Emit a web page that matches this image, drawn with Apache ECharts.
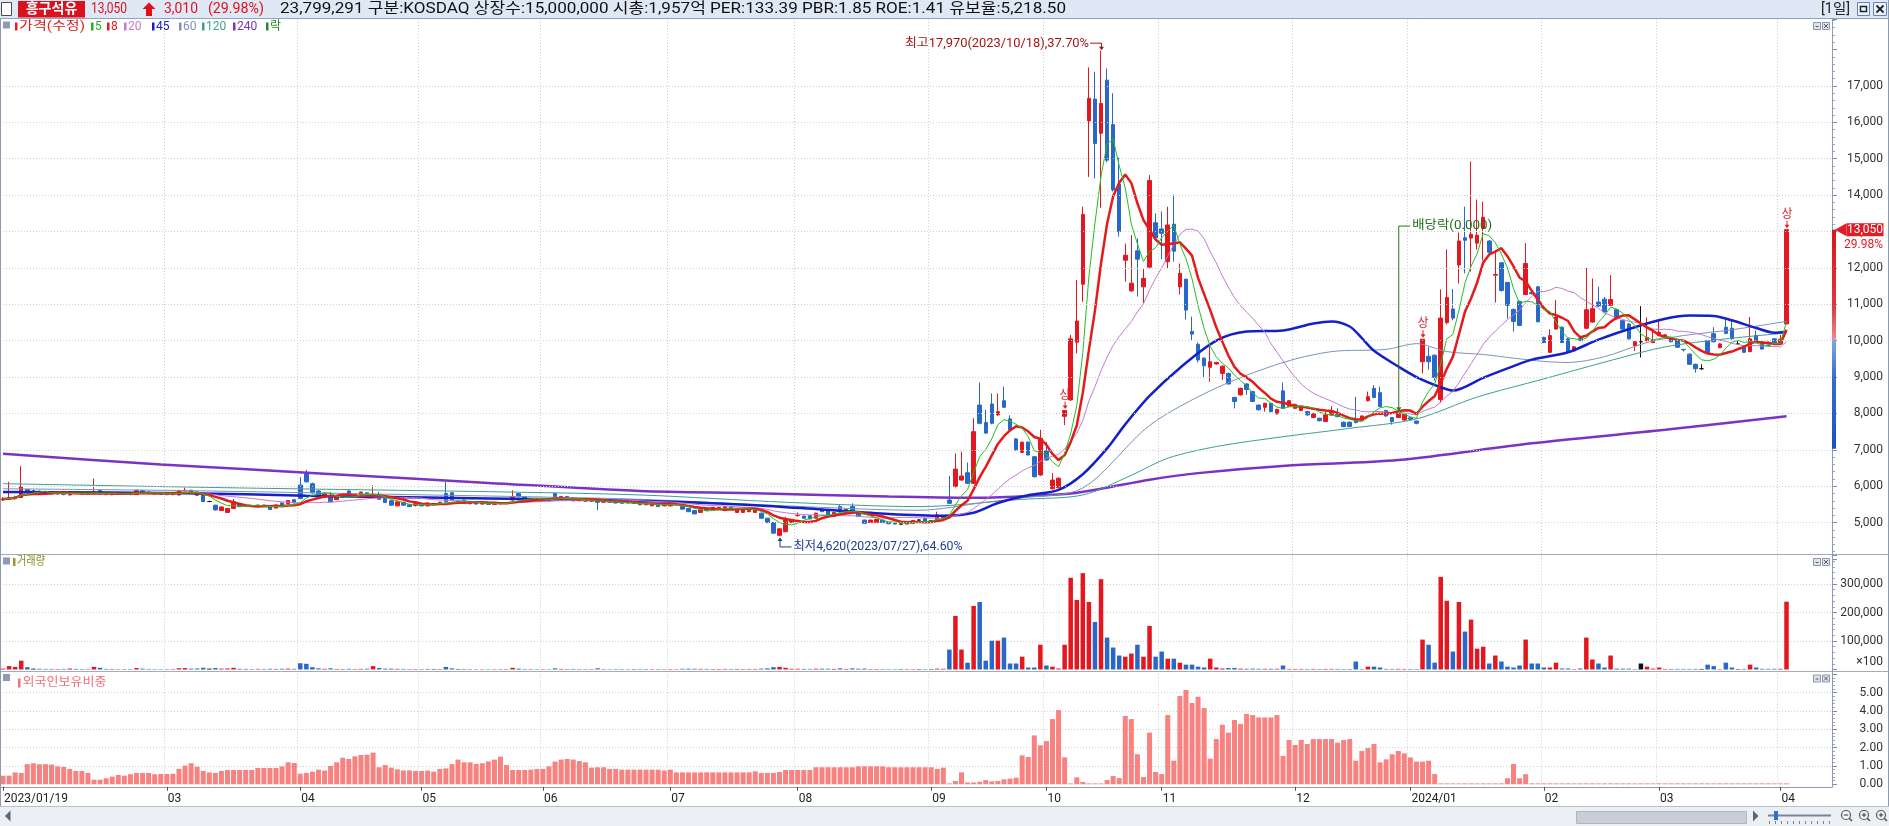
<!DOCTYPE html>
<html>
<head>
<meta charset="utf-8">
<script src="https://cdn.jsdelivr.net/npm/echarts@6.0.0/dist/echarts.min.js"></script>
<style>
html, body { margin: 0; padding: 0; background: #fff; }
#main { width: 1889px; height: 826px; }
</style>
</head>
<body>
<div id="main"></div>
<script>
// 흥구석유 일봉 (2023/01/19 ~ 2024/04/02)
const holidays = ['2023-01-23','2023-01-24','2023-03-01','2023-05-01','2023-05-05','2023-05-29',
  '2023-06-06','2023-08-15','2023-09-28','2023-09-29','2023-10-02','2023-10-03','2023-10-09',
  '2023-12-25','2023-12-29','2024-01-01','2024-02-09','2024-02-12','2024-03-01'];

function tradingDays(start, end) {
  const out = [];
  const d = new Date(start + 'T00:00:00Z');
  const e = new Date(end + 'T00:00:00Z');
  while (d <= e) {
    const w = d.getUTCDay();
    const iso = d.toISOString().slice(0, 10);
    if (w !== 0 && w !== 6 && !holidays.includes(iso)) out.push(iso.replace(/-/g, '/'));
    d.setUTCDate(d.getUTCDate() + 1);
  }
  return out;
}
const dates = tradingDays('2023-01-19', '2024-04-02');

const opens = [
  5620,5640,5660,5690,5910,5860,5860,5850,5820,5790, 5800,5760,5840,5800,5780,5790,5880,5790,5770,5800,
  5780,5790,5770,5880,5840,5800,5790,5780,5770,5760, 5880,5890,5840,5800,5580,5480,5330,5280,5390,5530,
  5450,5470,5440,5480,5450,5400,5540,5520,5630,6030, 6340,6070,5870,5700,5750,5630,5700,5870,5710,5760,
  5820,5720,5760,5660,5600,5460,5560,5490,5470,5520, 5460,5520,5520,5800,5820,5590,5620,5520,5560,5510,
  5540,5500,5530,5520,5620,5800,5710,5640,5660,5620, 5640,5800,5650,5720,5670,5600,5620,5590,5610,5560,
  5580,5560,5580,5570,5540,5550,5560,5460,5480,5460, 5460,5490,5440,5390,5330,5280,5390,5350,5360,5330,
  5430,5280,5280,5300,5280,5260,5120,5000,4650,4750, 5000,5190,5180,5190,5120,5370,5330,5170,5440,5280,
  5440,5300,5070,5000,5000,5070,5000,4980,4960,4960, 4980,5070,5120,5050,5070,5120,5620,5990,6170,6370,
  6080,8230,7750,8260,7960,8350,7850,7300,6930,7210, 6810,6310,6970,5930,5960,7920,8370,9960,11550,16040,
  16640,15700,17160,15940,14300,12210,11370,12470,11480,12020, 13240,13070,12170,13200,11480,11690,10250,9900,9520,9270,
  9360,9100,9100,8440,8510,8810,8600,8230,8170,8280, 7990,8620,8190,8140,8080,8050,7890,7870,7780,7960,
  7980,7760,7760,7840,7820,8350,8690,8570,8080,7890, 7890,7820,7880,7790,9420,9570,9600,8380,10500,10870,
  12080,12830,12820,12680,13090,12740,11800,12140,11600,10860, 11080,11270,11320,11480,10090,9680,10320,10370,10050,9720,
  10060,10340,10510,11060,11140,10970,10850,10550,10460,9860, 9970,10000,9950,10140,10070,10090,10000,9760,9630,9350,
  9230,10000,10190,9810,10370,10340,9910,9860,9700,10140, 9970,9880,10050,9910,10460
];
const closes = [
  5650,5680,5700,5980,5850,5860,5800,5820,5790,5800, 5770,5840,5800,5780,5790,5850,5790,5770,5800,5780,
  5790,5770,5890,5840,5800,5790,5780,5770,5790,5880, 5890,5840,5750,5580,5580,5350,5430,5390,5570,5440,
  5470,5440,5480,5450,5360,5480,5460,5610,5540,5660, 6120,5820,5730,5790,5570,5700,5720,5760,5780,5840,
  5730,5780,5640,5550,5480,5570,5480,5440,5520,5460, 5540,5520,5560,5570,5620,5590,5530,5560,5510,5540,
  5500,5530,5520,5540,5710,5710,5640,5660,5620,5640, 5610,5710,5720,5630,5600,5620,5590,5610,5560,5580,
  5560,5540,5530,5540,5540,5490,5490,5530,5440,5510, 5530,5500,5370,5300,5240,5370,5330,5420,5420,5440,
  5360,5350,5350,5370,5350,5120,5000,4710,4830,5070, 5090,5200,5120,5100,5260,5300,5210,5280,5350,5360,
  5330,5170,4980,5070,5090,5000,4970,4960,4960,5030, 5060,5070,5010,5050,5210,5190,5530,6470,6280,6080,
  7500,7730,7460,7730,8050,8170,7550,7000,7210,6860, 6260,7320,6720,6170,6220,8080,10050,10540,13470,16660,
  15420,16520,14960,14140,13000,12350,11580,12240,11710,14400, 12830,12950,13180,12460,11850,10840,10180,9470,9310,9420,
  9400,9300,8810,8330,8690,8660,8330,8100,8280,8050, 8110,8140,8350,8250,8190,7960,7990,7800,7960,8050,
  7910,7640,7640,7750,7930,8460,8440,8190,7930,7780, 8000,7980,7840,7730,10040,9420,8990,10620,11190,10620,
  12740,12760,12920,12900,13390,12430,11820,11380,10970,10530, 10420,12120,11290,10520,9950,10140,10650,9950,9700,9830,
  10000,10850,10880,10950,10790,11130,10600,10320,10050,9970, 9970,10090,10020,10230,10160,9970,9820,9750,9350,9230,
  9230,9660,9970,9910,10200,10050,9910,9680,10050,10000, 9770,9870,9940,10040,13050
];
const lows = [
  5600,5620,5630,5680,5830,5830,5780,5800,5770,5760, 5750,5750,5780,5760,5760,5780,5770,5750,5750,5760,
  5760,5750,5760,5820,5790,5770,5760,5750,5750,5750, 5860,5830,5740,5570,5560,5330,5320,5270,5380,5430,
  5440,5430,5430,5430,5350,5390,5450,5510,5530,5650, 6100,5800,5720,5690,5560,5620,5680,5750,5700,5750,
  5720,5710,5630,5540,5470,5450,5470,5430,5440,5450, 5450,5500,5510,5560,5600,5570,5520,5500,5500,5500,
  5490,5490,5500,5510,5600,5700,5630,5620,5610,5600, 5600,5700,5640,5620,5590,5590,5580,5570,5340,5550,
  5550,5530,5520,5530,5520,5480,5480,5450,5430,5450, 5450,5480,5360,5290,5230,5270,5320,5340,5350,5320,
  5350,5270,5270,5290,5270,5110,4990,4700,4620,4740, 4990,5170,5110,5090,5110,5290,5200,5160,5340,5270,
  5320,5160,4970,4990,4990,4990,4960,4950,4950,4950, 4970,5050,5000,5030,5060,5110,5520,5970,6150,6060,
  6060,7700,7440,7700,7940,8150,7530,6980,6910,6840, 6240,6290,6700,5910,5940,7680,8350,9650,11070,14500,
  14460,13650,14900,14100,12860,11620,11340,11210,11030,12000, 12800,12240,11990,12170,11270,10580,10010,9400,8970,8870,
  9340,8920,8800,8140,8490,8510,8310,8080,8050,8030, 7970,8120,8170,8120,8060,7940,7870,7780,7760,7940,
  7900,7620,7620,7730,7800,8330,8420,8170,7910,7690, 7870,7800,7820,7700,9100,9200,8900,8300,10450,10560,
  11570,11850,11900,12500,12200,12400,11050,11350,10610,10250, 10400,11250,11270,10500,9930,9660,10300,9930,9680,9700,
  9990,10320,10490,10930,10770,10950,10580,10300,10030,9720, 9540,9980,9930,10120,10050,9950,9800,9700,9330,9120,
  9200,9640,9950,9790,10180,10030,9880,9660,9680,9980, 9750,9850,9920,9880,10450
];
const highs = [
  5700,6120,5740,6550,5930,5900,5880,5870,5840,5830, 5820,5860,5850,5820,5810,6210,5900,5800,5810,5820,
  5810,5800,5900,5890,5850,5810,5800,5790,5800,5900, 5960,5900,5850,5800,5600,5490,5440,5400,5650,5540,
  5480,5480,5490,5490,5460,5500,5560,5620,5650,6250, 6450,6100,5900,5810,5840,5710,5740,5880,5790,5850,
  5830,6030,5850,5670,5610,5580,5570,5500,5530,5530, 5550,5540,5570,6120,5840,5610,5630,5570,5570,5550,
  5550,5540,5540,5550,5890,5810,5720,5670,5670,5650, 5650,5810,5730,5730,5680,5630,5630,5620,5620,5590,
  5590,5570,5590,5580,5560,5560,5570,5540,5490,5520, 5540,5510,5450,5400,5340,5380,5400,5430,5430,5450,
  5440,5360,5360,5380,5360,5270,5130,5010,4850,5160, 5100,5280,5190,5200,5270,5380,5340,5290,5500,5370,
  5530,5310,5080,5080,5100,5080,5010,4990,4990,5040, 5070,5090,5130,5070,5300,5200,6280,6900,6950,6650,
  7870,8850,8100,8550,8550,8740,7950,7320,7230,7230, 6830,7550,7220,6360,6240,8080,10160,11670,13680,17510,
  17390,17970,17480,16800,15030,12670,12900,12810,12000,14550, 13500,13550,13680,14020,12120,11700,10660,9950,9540,9840,
  9420,9320,9120,8460,8710,8830,8620,8250,8290,8300, 8130,8850,8370,8270,8210,8070,8010,7880,8050,8200,
  8140,7780,7780,8460,7950,8600,8780,8740,8100,7900, 8020,8000,7900,7800,10040,9830,9620,11410,12510,11420,
  12970,13680,14920,13880,13820,12760,12490,12160,11620,10880, 11100,12680,11340,11500,10110,10310,11120,10390,10070,9850,
  10070,12000,11710,11480,11200,11800,10870,10570,10480,9990, 10950,10640,10320,10600,10180,10110,10020,9770,9650,9370,
  9350,10020,10370,9930,10600,10560,10000,9880,10650,10280, 9990,9900,10070,10160,13050
];
// 거래량 (x100주)
const volume = [
  3000,12000,9000,31000,8000,3000,2500,2000,2000,1800, 2000,3500,2200,1800,1500,9000,6000,2000,1800,1500,
  1500,1400,5000,3000,2000,1500,1400,1500,1600,4500, 5000,3000,3500,6000,3000,5000,3000,3500,6000,2500,
  2000,1800,2200,1900,2500,2000,2600,3000,2400,22000, 20000,8000,4000,2500,4000,2000,1800,2500,1700,2200,
  2600,12000,5000,3000,3000,2200,2000,1700,1800,1600, 2000,1500,1800,9000,4000,1500,1800,1500,1400,1300,
  1300,1400,1500,1500,6000,3000,1800,1500,1400,1500, 1400,4000,2200,1800,1900,1600,1500,1500,4000,1500,
  1400,1500,1500,1400,1300,1600,1700,1500,1500,1400, 1600,1400,2500,2800,2600,2200,2000,1800,1800,2000,
  1900,2000,1800,1900,2000,3000,4000,8000,9000,6000, 2500,2500,2200,2000,2800,3000,2600,2400,4000,2200,
  4000,2800,3000,1800,1700,1600,1500,1400,1300,1500, 1500,1400,1600,1500,3000,2500,70000,188000,70000,24000,
  223000,237000,31000,101000,101000,112000,21000,21000,45000,7000, 7000,87000,14000,10000,3500,87000,322000,244000,338000,237000,
  167000,317000,112000,77000,49000,45000,56000,87000,45000,153000, 45000,63000,38000,38000,24000,17000,17000,10000,7000,38000,
  7000,3500,5000,5000,3000,2500,3000,2500,2500,2500, 2500,14000,2000,2000,2000,1800,2000,1800,2000,2200,
  2000,1800,1800,28000,1500,10000,10000,7000,2000,2000, 2200,2000,1800,1800,105000,87000,24000,325000,241000,63000,
  237000,133000,175000,73000,80000,21000,49000,28000,10000,7000, 14000,105000,21000,21000,7000,7000,24000,3500,3500,1500,
  3500,112000,35000,21000,7000,49000,3000,3000,3000,1500, 21000,10000,3000,7000,2000,2000,2000,2000,2000,2000,
  2000,17000,12000,1500,24000,7000,1500,2000,17000,7000, 2500,2500,2500,2500,237993
];
// 외국인보유비중 (%)
const foreign = [
  0.47,0.47,0.65,0.62,1.10,1.15,1.10,1.10,1.08,0.98, 0.95,0.84,0.73,0.73,0.62,0.25,0.25,0.33,0.42,0.51,
  0.47,0.55,0.62,0.62,0.62,0.55,0.56,0.56,0.58,0.84, 1.02,1.15,0.96,0.73,0.65,0.62,0.73,0.78,0.78,0.78,
  0.78,0.78,0.89,0.89,0.89,0.89,0.98,1.20,1.16,0.58, 0.62,0.69,0.80,0.75,1.00,1.20,1.45,1.38,1.53,1.60,
  1.62,1.73,0.93,1.05,0.91,0.82,0.76,0.76,0.73,0.73, 0.75,0.69,0.84,0.87,1.10,1.35,1.20,1.20,1.11,1.15,
  1.25,1.35,1.51,1.05,0.78,0.78,0.78,0.80,0.84,0.84, 0.98,1.24,1.35,1.38,1.35,1.27,1.20,0.91,0.93,0.93,
  0.84,0.84,0.80,0.80,0.80,0.80,0.80,0.80,0.80,0.75, 0.80,0.65,0.65,0.65,0.65,0.65,0.65,0.65,0.65,0.65,
  0.65,0.65,0.65,0.65,0.71,0.62,0.62,0.62,0.67,0.78, 0.78,0.78,0.78,0.78,0.93,0.93,0.93,0.93,0.93,0.93,
  0.93,0.98,0.98,0.98,0.98,0.98,0.93,0.93,0.93,0.93, 0.93,0.93,0.93,0.93,0.84,0.91,0.05,0.18,0.65,0.10,
  0.10,0.14,0.23,0.16,0.18,0.27,0.31,0.36,1.58,1.49, 2.67,2.13,2.36,3.56,4.05,1.47,0.05,0.38,0.13,0.05,
  0.05,0.05,0.23,0.45,0.34,3.73,3.56,1.64,0.40,2.82, 0.67,0.56,3.78,1.29,4.82,5.15,4.44,4.78,4.16,1.40,
  2.47,3.25,2.82,3.51,3.29,3.84,3.78,3.65,3.65,3.65, 3.78,1.55,2.42,2.15,2.42,2.20,2.47,2.47,2.47,2.47,
  2.27,2.42,2.47,1.29,1.82,1.98,2.20,1.20,1.36,1.64, 1.82,1.69,1.47,1.24,1.24,1.29,0.56,0.05,0.05,0.05,
  0.05,0.05,0.05,0.05,0.05,0.05,0.05,0.05,0.33,1.11, 0.33,0.55,0.05,0.05,0.05,0.05,0.05,0.05,0.05,0.05,
  0.05,0.05,0.05,0.05,0.05,0.05,0.05,0.05,0.05,0.05, 0.05,0.05,0.05,0.05,0.05,0.05,0.05,0.05,0.05,0.05,
  0.05,0.05,0.05,0.05,0.05,0.05,0.05,0.05,0.05,0.05, 0.05,0.05,0.05,0.05,0.05
];

// 장기 이동평균선: 그림에서 읽은 값 [일자 index, 가격]
const ma45Read = [[0,5840],[30,5810],[50,5740],[70,5690],[90,5640],[102,5610],[113,5560],[124,5480],[135,5360],
  [146,5240],[155,5190],[160,5270],[164,5540],[169,5750],[174,5900],[178,6330],[182,7040],[185,7700],[189,8480],
  [194,9250],[200,10000],[205,10250],[211,10280],[216,10470],[219,10530],[222,10390],[224,10070],[226,9720],
  [230,9290],[233,9000],[237,8720],[239,8630],[244,8980],[249,9300],[252,9480],[258,9680],[263,10030],[269,10370],
  [274,10600],[278,10690],[282,10680],[285,10560],[289,10350],[292,10220],[294,10240]];
const ma60Read = [[0,5930],[30,5880],[60,5790],[90,5700],[105,5640],[129,5460],[151,5340],[162,5560],[168,5680],
  [178,5950],[189,7670],[200,8700],[211,9400],[219,9700],[228,9760],[233,9920],[238,9700],[244,9620],[249,9520],
  [254,9430],[258,9400],[264,9560],[271,9950],[277,10140],[285,10300],[294,10530]];
const ma120Read = [[0,6070],[40,5950],[80,5850],[105,5760],[129,5560],[151,5440],[168,5640],[178,5760],[186,6300],
  [192,6770],[200,7090],[211,7360],[222,7590],[233,7850],[243,8450],[254,8950],[266,9500],[274,9830],[284,10050],[294,10210]];
const ma240Read = [[0,6890],[26,6600],[53,6345],[80,6090],[105,5870],[124,5810],[146,5715],[160,5680],[170,5740],
  [176,5800],[181,5930],[189,6180],[197,6360],[212,6570],[230,6720],[252,7180],[274,7550],[294,7920]];

const priceTicks = [5000,6000,7000,8000,9000,10000,11000,12000,13000,14000,15000,16000,17000];
const volumeTicks = [100000,200000,300000];
const foreignTicks = [0,1,2,3,4,5];
const todayShares = 23799291;
const PAD = 7;

const UP = '#e3171f', DOWN = '#2768c9', FLAT = '#111111';
const FAM = 'Roboto, "Noto Sans CJK KR", sans-serif';
const F = (s, w) => (w ? w + ' ' : '') + s + 'px ' + FAM;
const fmt = v => v.toLocaleString('en-US');

const categories = dates.concat(Array.from({ length: PAD }, (_, k) => 'pad' + k));
const monthStart = dates.map((d, i) => i === 0 || d.slice(5, 7) !== dates[i - 1].slice(5, 7));
const showTick = i => i < dates.length && monthStart[i] && (i === 0 || i > 12);
const monthLabel = (v, i) => i === 0 ? v : (v.slice(5, 7) === '01' ? v.slice(0, 7) : v.slice(5, 7));

function movingAvg(n) {
  return closes.map((_, i) => {
    const from = Math.max(0, i - n + 1);
    let s = 0;
    for (let k = from; k <= i; k++) s += closes[k];
    return Math.round(s / (i - from + 1));
  });
}
function candleColor(i) {
  return closes[i] > opens[i] ? UP : (closes[i] < opens[i] ? DOWN : FLAT);
}

const candleData = dates.map((_, i) => [opens[i], closes[i], lows[i], highs[i]]);

function makeX(gridIndex, bottom) {
  return {
    type: 'category', gridIndex, data: categories, boundaryGap: true,
    offset: bottom ? 2.5 : 0,
    axisLine: { show: bottom, onZero: false, lineStyle: { color: '#8e9ab0' } },
    axisTick: { show: bottom, alignWithLabel: true, interval: showTick, length: 4, lineStyle: { color: '#555' } },
    axisLabel: { show: bottom, interval: showTick, formatter: monthLabel, align: 'left', margin: 6,
      padding: [0, 0, 0, 1], color: '#222', fontSize: 12, fontFamily: FAM },
    splitLine: { show: true, interval: showTick, lineStyle: { color: '#cdcdcd', type: [1, 2] } }
  };
}
function makeY(gridIndex, min, max, interval, formatter) {
  return {
    type: 'value', gridIndex, position: 'right', min, max, interval,
    axisLine: { show: false },
    axisTick: { show: true, length: 5, lineStyle: { color: '#7d8aa3' } },
    minorTick: { show: true, splitNumber: 5, length: 3, lineStyle: { color: '#9aa5b9' } },
    axisLabel: { formatter, align: 'right', margin: 51, color: '#333', fontSize: 12, fontFamily: FAM },
    splitLine: { show: gridIndex !== 0, showMinLine: false, showMaxLine: false,
      lineStyle: { color: '#d0d0d0', type: [1, 2] } }
  };
}
function maLine(name, data, color, width, smooth) {
  return { name, type: 'line', xAxisIndex: 0, yAxisIndex: 0, data, showSymbol: false, symbol: 'none',
    smooth: smooth || false, silent: true, z: 4, lineStyle: { color, width } };
}

const chart = echarts.init(document.getElementById('main'));
const gridBase = { left: 0, right: 57, containLabel: false, outerBoundsMode: 'none' };

chart.setOption({
  animation: false,
  backgroundColor: '#ffffff',
  grid: [
    Object.assign({ top: 19, height: 540 }, gridBase),
    Object.assign({ top: 555.5, height: 114 }, gridBase),
    Object.assign({ top: 674.4, height: 109.9 }, gridBase)
  ],
  xAxis: [makeX(0, false), makeX(1, false), makeX(2, true)],
  yAxis: [
    makeY(0, 4000, 18840, 1000, v => priceTicks.includes(v) ? fmt(v) : ''),
    makeY(1, 0, 400000, 100000, v => volumeTicks.includes(v) ? fmt(v) : ''),
    makeY(2, 0, 6, 1, v => foreignTicks.includes(v) ? v.toFixed(2) : '')
  ],
  series: [
    { name: 'grid', type: 'line', xAxisIndex: 0, yAxisIndex: 0, data: closes, showSymbol: false, silent: true, z: 1,
      lineStyle: { opacity: 0 },
      markLine: { silent: true, symbol: ['none', 'none'], label: { show: false }, animation: false,
        lineStyle: { color: '#d0d0d0', type: [1, 2], width: 1 },
        data: priceTicks.map(v => ({ yAxis: v })) } },
    { name: '가격', type: 'candlestick', xAxisIndex: 0, yAxisIndex: 0, data: candleData, barWidth: 4, z: 3,
      itemStyle: { color: UP, color0: DOWN, borderColor: UP, borderColor0: DOWN, borderColorDoji: FLAT, borderWidth: 1 } },
    maLine('240', ma240Read, '#7a33c4', 2.5, 0.3),
    maLine('120', ma120Read, '#3c9f93', 1, 0.3),
    maLine('60', ma60Read, '#7b93b5', 1, 0.3),
    maLine('45', ma45Read, '#1420c8', 2.5, 0.3),
    maLine('20', movingAvg(20), '#c47ad0', 1),
    maLine('8', movingAvg(8), '#e41b1b', 2.5),
    maLine('5', movingAvg(5), '#21c121', 1),
    { name: '거래량', type: 'bar', xAxisIndex: 1, yAxisIndex: 1, barWidth: 4.5,
      data: volume.map((v, i) => ({ value: v, itemStyle: { color: candleColor(i) } })) },
    { name: '외국인보유비중', type: 'bar', xAxisIndex: 2, yAxisIndex: 2, barWidth: 5,
      data: foreign, itemStyle: { color: '#f7827f' } }
  ]
});

// ---- graphic helpers ----
const mctx = document.createElement('canvas').getContext('2d');
function rect(x, y, w, h, fill, stroke, extra) {
  return Object.assign({ type: 'rect', shape: { x, y, width: w, height: h },
    style: { fill: fill || 'none', stroke: stroke || null, lineWidth: 1 }, z: 100, silent: true }, extra || {});
}
function line(x1, y1, x2, y2, stroke, w) {
  return { type: 'line', shape: { x1, y1, x2, y2 }, style: { stroke, lineWidth: w || 1 }, z: 100, silent: true };
}
function poly(points, fill) {
  return { type: 'polygon', shape: { points }, style: { fill }, z: 100, silent: true };
}
function pline(points, stroke) {
  return { type: 'polyline', shape: { points }, style: { stroke, lineWidth: 1, fill: null }, z: 100, silent: true };
}
function text(x, y, t, font, fill, align) {
  return { type: 'text', x, y, style: { text: t, font, fill, align: align || 'left', verticalAlign: 'middle' }, z: 101, silent: true };
}
function fitText(x, y, t, font, fill, width, align) {
  mctx.font = font;
  const g = text(x, y, t, font, fill, align);
  g.scaleX = width / mctx.measureText(t).width;
  return g;
}

const last = closes.length - 1;
const cur = closes[last], prev = closes[last - 1];
const pct = ((cur - prev) / prev * 100).toFixed(2);
const upLimit = Math.floor(prev * 1.3 / 10) * 10;
const downLimit = Math.ceil(prev * 0.7 / 10) * 10;

const G = [];
// 상단 헤더
G.push(rect(0, 0, 1889, 18.5, '#dfe8f5'));
G.push(line(0, 18.5, 1889, 18.5, '#8fa2c6'));
G.push(rect(1.5, 2.5, 10, 13, '#ffffff', '#4a4a4a'));
G.push(rect(18, 1, 67, 16.5, '#d8121e'));
G.push(text(51.5, 9.5, '흥구석유', F(14, 'bold'), '#ffffff', 'center'));
G.push(fitText(91, 9.5, fmt(cur), F(15), '#e0101a', 36));
G.push(poly([[149, 2.5], [155.5, 9], [152, 9], [152, 16], [146, 16], [146, 9], [142.5, 9]], '#e0101a'));
G.push(fitText(164, 9.5, fmt(cur - prev), F(15), '#e0101a', 34));
G.push(fitText(208, 9.5, '(' + pct + '%)', F(15), '#e0101a', 56));
G.push(fitText(280, 9.5, fmt(todayShares) + ' 구분:KOSDAQ 상장수:15,000,000 시총:1,957억 PER:133.39 PBR:1.85 ROE:1.41 유보율:5,218.50',
  F(15), '#111111', 786));
G.push(fitText(1821, 9.5, '[1일]', F(14), '#222222', 29));
G.push(rect(1857.5, 2.5, 12, 13, '#eef2f9', '#6d83ad'));
G.push(rect(1860.5, 6.5, 6, 5, null, '#1d2433', { style: { fill: 'none', stroke: '#1d2433', lineWidth: 1.5 } }));
G.push(rect(1873.5, 2.5, 13, 13, '#eef2f9', '#6d83ad'));
G.push(line(1876.5, 5.5, 1883.5, 12.5, '#1d2433', 1.8));
G.push(line(1883.5, 5.5, 1876.5, 12.5, '#1d2433', 1.8));

// 패널 아이콘, 범례
function panelIcons(top) {
  G.push(rect(3, top + 2.5, 7, 7, '#8d9bb5'));
  G.push(rect(1813.5, top + 3.5, 7, 7, '#dfe3ea', '#8d97aa'));
  G.push(line(1815.5, top + 7.5, 1818.5, top + 7.5, '#556', 1));
  G.push(rect(1822.5, top + 3.5, 7, 7, '#dfe3ea', '#8d97aa'));
  G.push(line(1824, top + 5, 1828, top + 9, '#556', 1));
  G.push(line(1828, top + 5, 1824, top + 9, '#556', 1));
}
panelIcons(19);
panelIcons(555);
panelIcons(671.5);

const legendItems = [
  { t: '가격(수정)', c: '#e0201a', x: 15, w: 66 },
  { t: '5', c: '#21b021', x: 91 },
  { t: '8', c: '#e41b1b', x: 107 },
  { t: '20', c: '#c47ad0', x: 124 },
  { t: '45', c: '#1420c8', x: 152 },
  { t: '60', c: '#7b93b5', x: 179 },
  { t: '120', c: '#3c9f93', x: 202 },
  { t: '240', c: '#7a33c4', x: 233 },
  { t: '락', c: '#2a8a2a', x: 266 }
];
legendItems.forEach(it => {
  G.push(rect(it.x, 22.5, 2.5, 8, it.c));
  G.push(it.w ? fitText(it.x + 4, 26.5, it.t, F(12), it.c, it.w) : text(it.x + 4, 26.5, it.t, F(12), it.c));
});
G.push(rect(13, 558, 2.5, 8, '#9a9a2a'));
G.push(fitText(17, 562, '거래량', F(12), '#8c8c1c', 28));
G.push(rect(18, 678.5, 2.5, 9, '#f0707a'));
G.push(fitText(22.5, 683, '외국인보유비중', F(12), '#f0707a', 84));
G.push(text(1883, 662, '×100', F(12), '#333333', 'right'));

// 구분선
G.push(line(0, 554.5, 1889, 554.5, '#a4acbc'));
G.push(line(0, 671.5, 1889, 671.5, '#a4acbc'));
G.push(line(1832.5, 18.5, 1832.5, 787.5, '#8e9ab0'));
G.push(line(0.5, 18.5, 0.5, 806, '#8e9ab0'));
G.push(line(1888.5, 0, 1888.5, 826, '#8e9ab0'));

// 하단 스크롤바
G.push(rect(0, 806, 1889, 20, '#eceff4'));
G.push(line(0, 806.5, 1889, 806.5, '#b8c0cc'));
G.push(poly([[5, 816], [10.5, 810.5], [10.5, 821.5]], '#5a6478'));
G.push(rect(1576.5, 811.5, 170, 12, '#c9ced6', '#b0b6c0'));
G.push(poly([[1753, 810.5], [1758.5, 816], [1753, 821.5]], '#5a6478'));
G.push(line(1768, 815.5, 1831, 815.5, '#7a8496', 2));
G.push(rect(1774, 811, 4, 9, '#2f6fd0'));
for (let k = 0; k <= 10; k++) G.push(line(1769.5 + k * 6, 821, 1769.5 + k * 6, 824, '#7a8496', 1));
[[1846, '-'], [1864, '+'], [1881, '+']].forEach(([cx, s]) => {
  G.push({ type: 'circle', shape: { cx, cy: 815, r: 4.5 }, style: { fill: '#f7f7f7', stroke: '#555', lineWidth: 1.2 }, z: 100, silent: true });
  G.push(line(cx + 3.2, 818.2, cx + 6, 821, '#555', 1.6));
  G.push(line(cx - 2.2, 815, cx + 2.2, 815, '#333', 1));
  if (s === '+') G.push(line(cx, 812.8, cx, 817.2, '#333', 1));
});

// ---- 데이터 좌표 기반 표시 ----
const px = (i, v) => chart.convertToPixel({ gridIndex: 0 }, [i, v]);

const hiIdx = highs.indexOf(Math.max(...highs));
const loIdx = lows.indexOf(Math.min(...lows));
{
  const [cx, cy] = px(hiIdx, highs[hiIdx]);
  const t = '최고' + fmt(highs[hiIdx]) + '(' + dates[hiIdx] + '),' + ((highs[hiIdx] - cur) / cur * 100).toFixed(2) + '%';
  G.push(fitText(cx - 12, cy - 7, t, F(12), '#a31515', 184, 'right'));
  G.push(pline([[cx - 11, cy - 7.5], [cx + 0.5, cy - 7.5], [cx + 0.5, cy - 3]], '#a31515'));
  G.push(poly([[cx - 2, cy - 4], [cx + 3, cy - 4], [cx + 0.5, cy - 0.5]], '#a31515'));
}
{
  const [cx, cy] = px(loIdx, lows[loIdx]);
  const t = '최저' + fmt(lows[loIdx]) + '(' + dates[loIdx] + '),' + ((cur - lows[loIdx]) / cur * 100).toFixed(2) + '%';
  G.push(poly([[cx - 2, cy + 4.5], [cx + 3, cy + 4.5], [cx + 0.5, cy + 1]], '#203c8c'));
  G.push(pline([[cx + 0.5, cy + 4], [cx + 0.5, cy + 10.5], [cx + 12, cy + 10.5]], '#203c8c'));
  G.push(fitText(cx + 14, cy + 10.5, t, F(12), '#203c8c', 169));
}
{
  // 배당락
  const exIdx = dates.indexOf('2023/12/27');
  const [cx, cy] = px(exIdx, highs[exIdx]);
  const ty = px(exIdx, 13150)[1];
  G.push(pline([[cx + 12, ty], [cx + 0.5, ty], [cx + 0.5, cy - 5]], '#1e7a1e'));
  G.push(poly([[cx - 2, cy - 5.5], [cx + 3, cy - 5.5], [cx + 0.5, cy - 1.5]], '#1e7a1e'));
  G.push(fitText(cx + 14, ty, '배당락(0.000)', F(12), '#1e6e1e', 80));
}
// 상한가 표시
closes.forEach((c, i) => {
  if (i === 0 || c < closes[i - 1] * 1.295) return;
  const [cx, cy] = px(i, highs[i]);
  G.push(text(cx + 0.5, cy - 15, '상', F(12), '#e0202a', 'center'));
  G.push(line(cx + 0.5, cy - 9, cx + 0.5, cy - 4, '#e0202a', 1));
  G.push(poly([[cx - 2, cy - 5], [cx + 3, cy - 5], [cx + 0.5, cy - 1.5]], '#e0202a'));
});
// 현재가 / 가격제한폭 표시
{
  const yUp = px(last, upLimit)[1], yPrev = px(last, prev)[1], yDown = px(last, downLimit)[1];
  const yCur = px(last, cur)[1];
  G.push(rect(1832, yUp, 4, yPrev - yUp, new echarts.graphic.LinearGradient(0, 0, 0, 1,
    [{ offset: 0, color: '#d41820' }, { offset: 0.7, color: '#dc3a40' }, { offset: 1, color: '#ec8a8a' }])));
  G.push(rect(1832, yPrev, 4, yDown - yPrev, new echarts.graphic.LinearGradient(0, 0, 0, 1,
    [{ offset: 0, color: '#86a8e0' }, { offset: 0.35, color: '#3a6ccc' }, { offset: 1, color: '#1e4fc0' }])));
  G.push(poly([[1835, yCur], [1846.5, yCur - 6.5], [1846.5, yCur + 6.5]], '#e01c24'));
  G.push(rect(1846.5, yCur - 6.5, 37, 13, '#e01c24'));
  G.push(text(1865, yCur, fmt(cur), F(12), '#ffffff', 'center'));
  G.push(text(1883, yCur + 15, pct + '%', F(12), '#e01c24', 'right'));
}

chart.setOption({ graphic: G });
</script>
</body>
</html>
